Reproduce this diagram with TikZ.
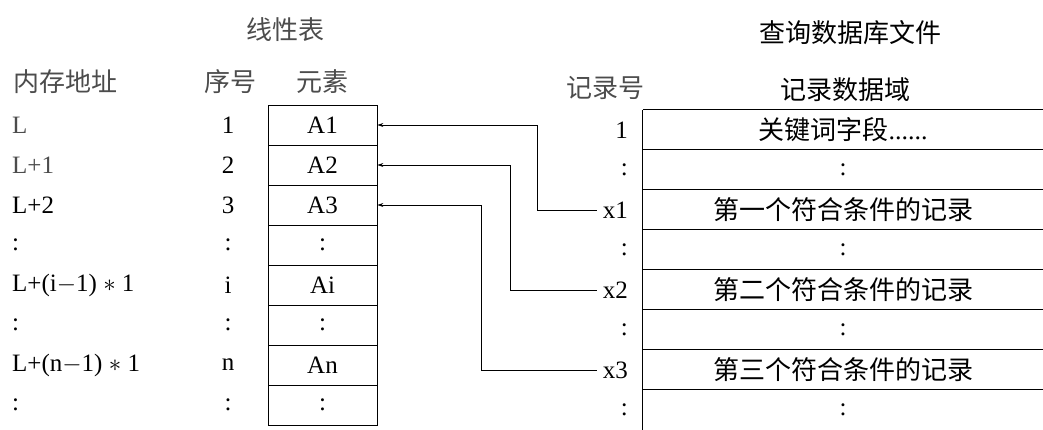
\documentclass[tikz,border=0pt]{standalone}
\usepackage{fontspec}
\setmainfont{Liberation Serif}
\newfontfamily\cjk{Noto Sans CJK SC}
\usetikzlibrary{arrows.meta}
\begin{document}
\begin{tikzpicture}[x=1pt,y=-1pt,
  lat/.style={font=\fontsize{25}{27}\selectfont, inner sep=2pt},
  han/.style={font=\cjk\fontsize{26}{28}\selectfont, inner sep=2pt},
  faint/.style={text=black!70},
  ecell/.style={draw, line width=0.8pt, minimum width=109pt, minimum height=40pt, inner sep=0pt, font=\fontsize{25}{27}\selectfont},
  rcell/.style={minimum width=400pt, minimum height=40pt, inner sep=0pt},
  link/.style={line width=0.8pt, -{Stealth[length=6pt,width=4pt]}},
  rule/.style={line width=0.8pt}]
\useasboundingbox (0,0) rectangle (1043,430);
% headings
\node[han, faint] (tl) at (285,30) {线性表};
\node[han] (tr) at (850,33) {查询数据库文件};
\node[han, faint, anchor=west] (haddr) at (11,82) {内存地址};
\node[han, faint] (hno) at (230,82) {序号};
\node[han, faint] (hel) at (322,82) {元素};
\node[han, faint] (hrec) at (605,88) {记录号};
\node[han] (hdat) at (845,90) {记录数据域};
% address column
\node[lat, faint, anchor=west] (a1) at (10,125) {L};
\node[lat, faint, anchor=west] (a2) at (10,165) {L+1};
\node[lat, anchor=west] (a3) at (10,205) {L+2};
\node[lat, anchor=west] (a4) at (10,245) {:};
\node[lat, anchor=west] (a5) at (10,285) {L+(i$-$1) $*$ 1};
\node[lat, anchor=west] (a6) at (10,325) {:};
\node[lat, anchor=west] (a7) at (10,365) {L+(n$-$1) $*$ 1};
\node[lat, anchor=west] (a8) at (10,405) {:};
% serial column
\node[lat] (s1) at (228,125) {1};
\node[lat] (s2) at (228,165) {2};
\node[lat] (s3) at (228,205) {3};
\node[lat] (s4) at (228,245) {:};
\node[lat] (s5) at (228,285) {i};
\node[lat] (s6) at (228,325) {:};
\node[lat] (s7) at (228,365) {n};
\node[lat] (s8) at (228,405) {:};
% element cells
\node[ecell] (e1) at (322.5,125) {A1};
\node[ecell] (e2) at (322.5,165) {A2};
\node[ecell] (e3) at (322.5,205) {A3};
\node[ecell] (e4) at (322.5,245) {:};
\node[ecell] (e5) at (322.5,285) {Ai};
\node[ecell] (e6) at (322.5,325) {:};
\node[ecell] (e7) at (322.5,365) {An};
\node[ecell] (e8) at (322.5,405) {:};
% record numbers
\node[lat, anchor=east] (n1) at (630,130) {1};
\node[lat, anchor=east] (n2) at (630,170) {:};
\node[lat, anchor=east] (n3) at (630,210) {x1};
\node[lat, anchor=east] (n4) at (630,250) {:};
\node[lat, anchor=east] (n5) at (630,290) {x2};
\node[lat, anchor=east] (n6) at (630,330) {:};
\node[lat, anchor=east] (n7) at (630,370) {x3};
\node[lat, anchor=east] (n8) at (630,410) {:};
% record data cells
\node[rcell, han] (r1) at (843,130) {关键词字段\fontspec{Liberation Serif}......};
\node[rcell, lat] (r2) at (843,170) {:};
\node[rcell, han] (r3) at (843,210) {第一个符合条件的记录};
\node[rcell, lat] (r4) at (843,250) {:};
\node[rcell, han] (r5) at (843,290) {第二个符合条件的记录};
\node[rcell, lat] (r6) at (843,330) {:};
\node[rcell, han] (r7) at (843,370) {第三个符合条件的记录};
\node[rcell, lat] (r8) at (843,410) {:};
\draw[rule] (r1.north west) -- (r8.south west);
\foreach \k in {1,...,8} {\draw[rule] (r\k.north west) -- (r\k.north east);}
% connectors
\coordinate (v1) at (537,0);
\coordinate (v2) at (510,0);
\coordinate (v3) at (481,0);
\draw[link] ([xshift=-4pt]n3.west) -- (v1 |- n3.west) |- (e1.east);
\draw[link] ([xshift=-4pt]n5.west) -- (v2 |- n5.west) |- (e2.east);
\draw[link] ([xshift=-4pt]n7.west) -- (v3 |- n7.west) |- (e3.east);
\end{tikzpicture}
\end{document}
